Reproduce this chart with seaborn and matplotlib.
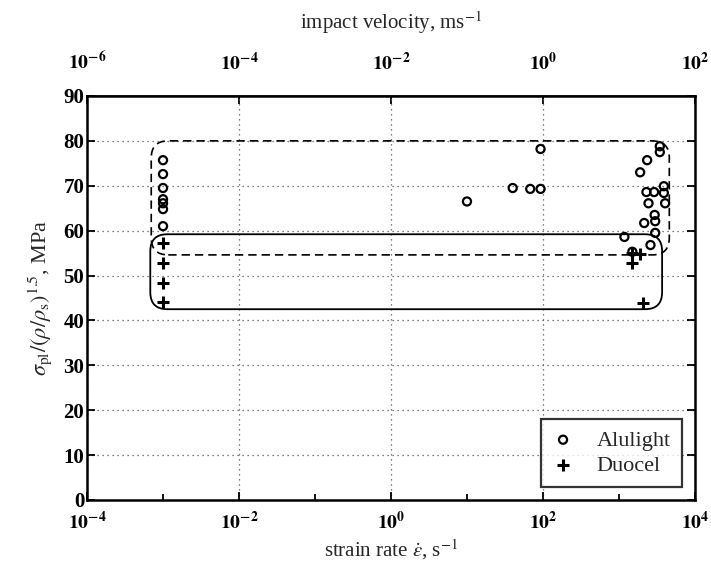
import numpy as np
import pandas as pd
import matplotlib
matplotlib.use("Agg")
import matplotlib.pyplot as plt
import seaborn as sns
from matplotlib.patches import FancyBboxPatch
from matplotlib.ticker import FixedLocator, FuncFormatter, NullFormatter

# ---------------- data ----------------
alulight_rate = [1e-3, 1e-3, 1e-3, 1e-3, 1e-3, 1e-3, 1e-3,
                 10, 40, 68, 93, 93,
                 3450, 3450, 2350, 1900, 2300, 2900, 3900, 3900, 2450, 4050,
                 2950, 3000, 2150, 3000, 1180, 2600, 1500]
alulight_stress = [75.7, 72.6, 69.5, 67.0, 66.1, 64.8, 61.0,
                   66.5, 69.5, 69.3, 69.3, 78.2,
                   78.8, 77.5, 75.7, 73.0, 68.6, 68.6, 69.9, 68.4, 66.1, 66.1,
                   63.5, 62.1, 61.7, 59.5, 58.6, 56.8, 55.3]
duocel_rate = [1e-3, 1e-3, 1e-3, 1e-3, 1500, 1900, 1480, 2100]
duocel_stress = [57.2, 52.8, 48.3, 44.1, 55.0, 54.8, 52.8, 43.9]

# envelope boxes: (rate_min, rate_max, stress_min, stress_max)
solid_box = (6.8e-4, 3700, 42.5, 59.2)
dashed_box = (7.0e-4, 4600, 54.6, 80.0)

x_major = [1e-4, 1e-2, 1e0, 1e2, 1e4]
x_minor = [1e-3, 1e-1, 1e1, 1e3]
y_ticks = [0, 10, 20, 30, 40, 50, 60, 70, 80, 90]
vel_ticks = [1e-6, 1e-4, 1e-2, 1e0, 1e2]

df_a = pd.DataFrame({"rate": alulight_rate, "stress": alulight_stress})
df_d = pd.DataFrame({"rate": duocel_rate, "stress": duocel_stress})

# ---------------- style ----------------
sns.set_theme(style="white")
plt.rcParams["font.family"] = ["Liberation Serif", "DejaVu Serif"]
plt.rcParams["mathtext.fontset"] = "stix"

fig = plt.figure(figsize=(7.11, 5.67), dpi=100)
ax = fig.add_axes([0.1224, 0.1182, 0.855, 0.7125])

ax.set_xscale("log")
ax.set_xlim(1e-4, 1e4)
ax.set_ylim(0, 90)

sns.scatterplot(data=df_a, x="rate", y="stress", ax=ax, marker="o", s=34,
                facecolors="none", edgecolor="black", linewidth=1.6,
                label="Alulight", zorder=4)
sns.scatterplot(data=df_d, x="rate", y="stress", ax=ax, marker="+", s=70,
                color="black", linewidth=2.2, label="Duocel", zorder=4)

# grid
ax.grid(True, which="major", linestyle=(0, (1, 3)), color="#555555", linewidth=0.9)
ax.set_axisbelow(True)

# ticks
ax.xaxis.set_major_locator(FixedLocator(x_major))
ax.xaxis.set_minor_locator(FixedLocator(x_minor))
ax.xaxis.set_minor_formatter(NullFormatter())
ax.yaxis.set_major_locator(FixedLocator(y_ticks))


def pow_fmt(v, pos):
    e = int(round(np.log10(v)))
    return r"$\mathbf{10^{%d}}$" % e


ax.xaxis.set_major_formatter(FuncFormatter(pow_fmt))
ax.tick_params(axis="both", which="both", direction="in", colors="black",
               labelsize=14, width=1.3)
ax.tick_params(axis="x", which="major", length=6, pad=8, bottom=True, top=False)
ax.tick_params(axis="x", which="minor", length=4, bottom=True, top=False)
ax.tick_params(axis="y", which="major", length=6, left=True, right=True, pad=2,
               labelsize=15)
for lab in ax.get_yticklabels():
    lab.set_fontweight("bold")

for sp in ax.spines.values():
    sp.set_color("black")
    sp.set_linewidth(1.8)

ax.set_xlabel(r"strain rate $\dot{\epsilon}$, s$^{-1}$", fontsize=15, labelpad=3)
ax.set_ylabel(r"$\sigma_{\rm pl}/(\rho/\rho_{\rm s})^{1.5}$, MPa", fontsize=16, labelpad=7)

# top axis: impact velocity
sec = ax.secondary_xaxis("top", functions=(lambda x: x / 100.0, lambda x: x * 100.0))
sec.set_xscale("log")
sec.xaxis.set_major_locator(FixedLocator(vel_ticks))
sec.xaxis.set_minor_locator(FixedLocator([]))
sec.xaxis.set_major_formatter(FuncFormatter(pow_fmt))
sec.tick_params(axis="x", which="major", direction="in", length=6, labelsize=14,
                pad=16, colors="black", width=1.3)
sec.set_xlabel(r"impact velocity, ms$^{-1}$", fontsize=15, labelpad=15)

# envelope boxes (drawn in axes fraction with circular rounded corners)
to_axes = ax.transData + ax.transAxes.inverted()
W = 0.855 * 711
H = 0.7125 * 567


def add_box(b, ls, lw):
    (x0, y0) = to_axes.transform((b[0], b[2]))
    (x1, y1) = to_axes.transform((b[1], b[3]))
    p = FancyBboxPatch((x0, y0), x1 - x0, y1 - y0,
                       boxstyle="round,pad=0,rounding_size=0.028",
                       mutation_aspect=W / H, transform=ax.transAxes,
                       facecolor="none", edgecolor="black", linestyle=ls,
                       linewidth=lw, zorder=3)
    ax.add_patch(p)


add_box(dashed_box, (0, (5, 3)), 1.2)
add_box(solid_box, "-", 1.3)

leg = ax.legend(loc="lower right", fontsize=16, frameon=True, fancybox=False,
                handletextpad=1.0, borderpad=0.5, labelspacing=0.2,
                borderaxespad=0.6, handlelength=1.0)
leg.get_frame().set_edgecolor("black")
leg.get_frame().set_linewidth(1.6)
leg.get_frame().set_facecolor("white")
leg.set_zorder(6)

fig.savefig("out.png", dpi=100)
